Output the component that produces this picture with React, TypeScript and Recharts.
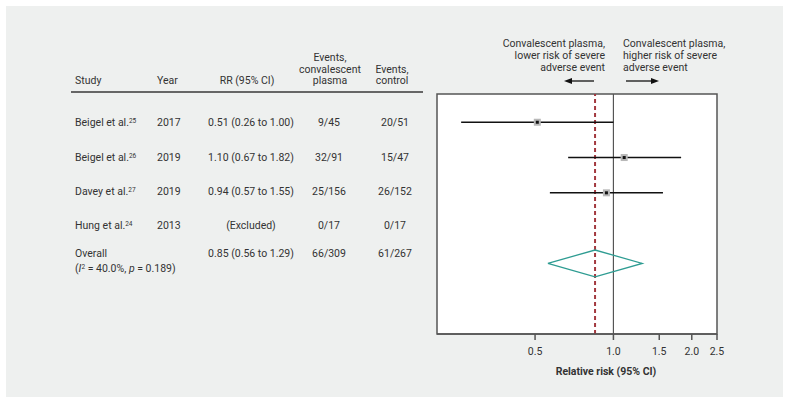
import {
  ComposedChart,
  ErrorBar,
  ReferenceArea,
  ReferenceLine,
  Scatter,
  XAxis,
  YAxis
} from "recharts";

const studies = ["Beigel et al.", "Beigel et al.", "Davey et al.", "Hung et al."];
const studyRefs = ["25", "26", "27", "24"];
const years = ["2017", "2019", "2019", "2013"];
const rrLabels = ["0.51 (0.26 to 1.00)", "1.10 (0.67 to 1.82)", "0.94 (0.57 to 1.55)", "(Excluded)"];
const convEvents = ["9/45", "32/91", "25/156", "0/17"];
const ctrlEvents = ["20/51", "15/47", "26/152", "0/17"];
const rr = [0.51, 1.1, 0.94, null];
const ciLow = [0.26, 0.67, 0.57, null];
const ciHigh = [1.0, 1.82, 1.55, null];

const overallRr = 0.85;
const overallLow = 0.56;
const overallHigh = 1.29;
const overallLabel = "0.85 (0.56 to 1.29)";
const overallConv = "66/309";
const overallCtrl = "61/267";
const heterogeneityI2 = "40.0%";
const heterogeneityP = "0.189";

const xTicks = [0.5, 1, 1.5, 2, 2.5];
const xDomain = [0.21, 2.5];
const yDomain = [-0.8, 6];
const overallRow = 4;

const FONT = "Roboto, 'Noto Sans', sans-serif";
const TEXT = "#333";

const studyData = rr
  .map((v, i) =>
    v == null
      ? null
      : { x: v, y: i, err: [v - (ciLow[i] as number), (ciHigh[i] as number) - v] }
  )
  .filter(Boolean) as Array<{ x: number; y: number; err: number[] }>;

const dh = 0.38;
const diamond = [
  { x: overallLow, y: overallRow },
  { x: overallRr, y: overallRow - dh },
  { x: overallHigh, y: overallRow },
  { x: overallRr, y: overallRow + dh },
  { x: overallLow, y: overallRow }
];

// table rows (text centre y)
const tableRowY = [123, 157.5, 192, 225.5];

function T({
  x,
  y,
  children,
  align = "left",
  bold = false,
  size = 10.5
}: {
  x: number;
  y: number;
  children: any;
  align?: "left" | "center" | "right";
  bold?: boolean;
  size?: number;
}) {
  const w = 200;
  const left = align === "left" ? x : align === "center" ? x - w / 2 : x - w;
  return (
    <div
      style={{
        position: "absolute",
        left,
        top: y - 7,
        width: w,
        height: 14,
        lineHeight: "14px",
        fontSize: size,
        textAlign: align,
        fontWeight: bold ? 700 : 400,
        color: TEXT,
        whiteSpace: "nowrap"
      }}
    >
      {children}
    </div>
  );
}

function Marker(props: any) {
  const { cx, cy } = props;
  if (cx == null || cy == null) return <g />;
  return (
    <g>
      <rect x={cx - 3.5} y={cy - 3.5} width={7} height={7} fill="#b8b8b8" />
      <rect x={cx - 1.5} y={cy - 1.5} width={3} height={3} fill="#111" />
    </g>
  );
}

export default function App() {
  return (
    <div
      style={{
        position: "absolute",
        left: 0,
        top: 0,
        width: 791,
        height: 404,
        background: "#fff",
        fontFamily: FONT
      }}
    >
      <div
        style={{
          position: "absolute",
          left: 6,
          top: 6,
          width: 777,
          height: 391,
          background: "#eef0ef"
        }}
      />

      {/* table header */}
      <T x={75} y={81}>Study</T>
      <T x={157} y={81}>Year</T>
      <T x={247} y={81} align="center">RR (95% CI)</T>
      <T x={330} y={58} align="center">Events,</T>
      <T x={330} y={69.5} align="center">convalescent</T>
      <T x={330} y={81} align="center">plasma</T>
      <T x={392} y={69.5} align="center">Events,</T>
      <T x={392} y={81} align="center">control</T>
      <div
        style={{
          position: "absolute",
          left: 71,
          top: 91,
          width: 352,
          height: 1.5,
          background: "#666"
        }}
      />

      {studies.map((s, i) => (
        <div key={i}>
          <T x={75} y={tableRowY[i]}>
            {s}
            <sup style={{ fontSize: 6.5, verticalAlign: "top", lineHeight: "10px" }}>{studyRefs[i]}</sup>
          </T>
          <T x={157} y={tableRowY[i]}>{years[i]}</T>
          <T x={251} y={tableRowY[i]} align="center">{rrLabels[i]}</T>
          <T x={329} y={tableRowY[i]} align="center">{convEvents[i]}</T>
          <T x={395} y={tableRowY[i]} align="center">{ctrlEvents[i]}</T>
        </div>
      ))}

      <T x={75} y={254}>Overall</T>
      <T x={75} y={269}>
        (<i>I</i>
        <sup style={{ fontSize: 6.5, verticalAlign: "top", lineHeight: "10px" }}>2</sup> ={" "}
        {heterogeneityI2}, <i>p</i> = {heterogeneityP})
      </T>
      <T x={251} y={254} align="center">{overallLabel}</T>
      <T x={329} y={254} align="center">{overallConv}</T>
      <T x={395} y={254} align="center">{overallCtrl}</T>

      {/* direction notes */}
      <T x={605} y={44} align="right">Convalescent plasma,</T>
      <T x={605} y={56} align="right">lower risk of severe</T>
      <T x={605} y={68} align="right">adverse event</T>
      <T x={623} y={44}>Convalescent plasma,</T>
      <T x={623} y={56}>higher risk of severe</T>
      <T x={623} y={68}>adverse event</T>
      <svg style={{ position: "absolute", left: 0, top: 0 }} width={791} height={404}>
        <line x1={571} y1={81} x2={594} y2={81} stroke="#111" strokeWidth={1.3} />
        <polygon points="564,81 572,78 572,84" fill="#111" />
        <line x1={626} y1={81} x2={652} y2={81} stroke="#111" strokeWidth={1.3} />
        <polygon points="659,81 651,78 651,84" fill="#111" />
      </svg>

      <div style={{ position: "absolute", left: 0, top: 0 }}>
        <ComposedChart
          width={791}
          height={404}
          margin={{ top: 94, right: 74, bottom: 33, left: 437 }}
        >
          <XAxis
            dataKey="x"
            type="number"
            scale="log"
            domain={xDomain}
            allowDataOverflow
            ticks={xTicks}
            tickFormatter={(v: number) => v.toFixed(1)}
            axisLine={{ stroke: "#555", strokeWidth: 1.5 }}
            tickLine={{ stroke: "#555", strokeWidth: 1.5 }}
            tickSize={6}
            tickMargin={8}
            height={37}
            tick={{ fill: TEXT, fontSize: 10.5, fontFamily: FONT }}
            label={{
              value: "Relative risk (95% CI)",
              position: "insideBottom",
              offset: -4,
              dx: 29,
              fill: TEXT,
              fontSize: 10.5,
              fontWeight: 700,
              fontFamily: FONT
            }}
          />
          <YAxis dataKey="y" type="number" domain={yDomain} reversed hide allowDataOverflow />
          <ReferenceArea
            x1={xDomain[0]}
            x2={xDomain[1]}
            y1={yDomain[0]}
            y2={yDomain[1]}
            fill="#fff"
            fillOpacity={1}
            stroke="#555"
            strokeWidth={1.5}
          />
          <ReferenceLine x={1} stroke="#555" strokeWidth={1.2} />
          <ReferenceLine x={overallRr} stroke="#a3393f" strokeWidth={2} strokeDasharray="4 3" />
          <Scatter
            data={diamond}
            line={{ stroke: "#2e9c92", strokeWidth: 1.3 }}
            lineType="joint"
            shape={() => <g />}
            isAnimationActive={false}
          />
          <Scatter data={studyData} shape={<Marker />} isAnimationActive={false}>
            <ErrorBar dataKey="err" direction="x" width={0} stroke="#111" strokeWidth={1.4} />
          </Scatter>
        </ComposedChart>
      </div>
    </div>
  );
}
